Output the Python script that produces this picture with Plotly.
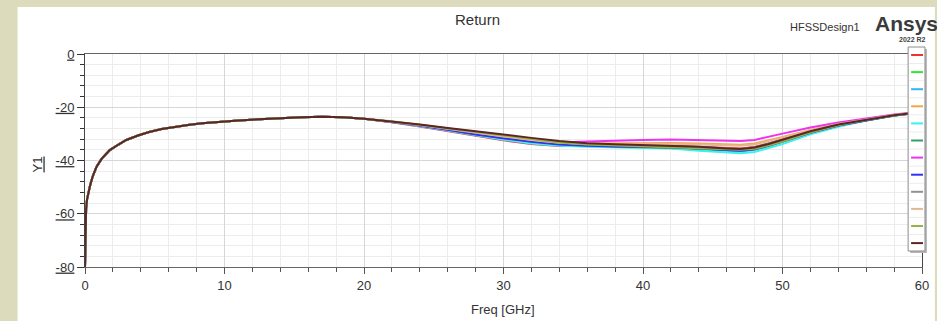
import plotly.graph_objects as go

# ---------------- data ----------------
freq_low = [0, 0.03, 0.08, 0.15, 0.25, 0.36, 0.55, 0.83, 1.2, 1.78, 2.4, 2.96, 3.8, 4.6,
            5.5, 6.5, 7.5, 8.4, 10, 11, 12.5, 14, 15.5, 17, 18.5, 20]
base_low = [-80, -65, -58, -54.5, -52, -49.5, -46, -42.3, -39.3, -36.1, -34, -32.3, -30.6, -29.3,
            -28.2, -27.3, -26.6, -26.0, -25.3, -25.0, -24.5, -24.1, -23.8, -23.6, -23.8, -24.3]
freq_high = [22, 24, 26, 28, 30, 32, 34, 36, 38, 40, 42, 44, 46, 47, 48, 49, 50, 52, 54, 56, 58, 60]

tail_red = [-25.6, -27.2, -28.9, -30.8, -32.4, -33.8, -34.6, -34.4, -34.2, -34.3, -34.4, -34.8, -35.4, -35.5, -34.9, -33.6, -32.0, -28.8, -26.3, -24.5, -22.9, -21.8]
tail_lime = [-25.4, -26.8, -28.3, -29.9, -31.3, -32.8, -33.9, -34.6, -34.9, -35.1, -35.3, -35.8, -36.4, -36.6, -36.0, -34.6, -33.0, -29.6, -26.9, -24.9, -23.1, -21.9]
tail_skyblue = [-25.5, -27.0, -28.6, -30.3, -31.8, -33.3, -34.2, -34.6, -34.7, -34.8, -35.0, -35.5, -36.2, -36.4, -35.9, -34.5, -32.8, -29.4, -26.8, -24.8, -23.0, -21.9]
tail_orange = [-25.4, -26.7, -28.1, -29.6, -31.0, -32.3, -33.3, -33.6, -33.5, -33.4, -33.4, -33.6, -34.0, -34.1, -33.6, -32.5, -31.2, -28.5, -26.2, -24.5, -22.9, -21.8]
tail_cyan = [-25.5, -27.0, -28.7, -30.6, -32.2, -33.6, -34.5, -34.8, -35.0, -35.2, -35.5, -36.3, -37.1, -37.3, -36.8, -35.4, -33.8, -30.2, -27.3, -25.0, -23.2, -22.0]
tail_seagreen = [-25.4, -26.8, -28.3, -29.8, -31.2, -32.7, -33.8, -34.4, -34.7, -34.9, -35.1, -35.5, -36.0, -36.1, -35.6, -34.3, -32.8, -29.5, -26.9, -24.9, -23.1, -21.9]
tail_magenta = [-25.4, -26.9, -28.5, -30.1, -31.6, -32.8, -33.2, -32.9, -32.5, -32.3, -32.1, -32.3, -32.6, -32.7, -32.3, -31.2, -29.9, -27.6, -25.7, -24.2, -22.7, -21.6]
tail_blue = [-25.5, -26.9, -28.5, -30.2, -31.6, -33.0, -34.0, -34.5, -34.7, -34.8, -35.0, -35.5, -36.2, -36.3, -35.8, -34.5, -32.9, -29.6, -26.9, -24.9, -23.1, -21.9]
tail_gray = [-25.4, -26.7, -28.1, -29.6, -30.9, -32.2, -33.3, -33.9, -34.1, -34.3, -34.5, -34.9, -35.5, -35.6, -35.0, -33.7, -32.2, -29.1, -26.6, -24.7, -23.0, -21.8]
tail_tan = [-25.4, -26.7, -28.1, -29.6, -31.0, -32.3, -33.3, -33.7, -33.7, -33.7, -33.8, -34.0, -34.4, -34.5, -34.0, -32.8, -31.4, -28.6, -26.3, -24.6, -22.9, -21.8]
tail_olive = [-25.3, -26.6, -27.9, -29.3, -30.6, -32.0, -33.2, -34.0, -34.4, -34.7, -35.0, -35.4, -35.9, -36.0, -35.6, -34.4, -32.9, -29.5, -26.8, -24.8, -23.1, -21.9]
tail_brown = [-25.3, -26.5, -27.8, -29.1, -30.3, -31.5, -32.7, -33.5, -33.9, -34.2, -34.4, -34.8, -35.5, -35.7, -35.1, -33.8, -32.2, -29.0, -26.5, -24.7, -23.0, -21.8]

tails = [tail_red, tail_lime, tail_skyblue, tail_orange, tail_cyan, tail_seagreen,
         tail_magenta, tail_blue, tail_gray, tail_tan, tail_olive, tail_brown]
colors = ["#f23232", "#32e632", "#32b4f5", "#f5a546", "#3cf0f0", "#32a064",
          "#f032f0", "#3232f0", "#909090", "#e1b891", "#96b446", "#5a2626"]

x_ticks = [0, 10, 20, 30, 40, 50, 60]
y_ticks = [0, -20, -40, -60, -80]
y_ticktext = ["<u>%d</u>" % v for v in y_ticks]

# ---------------- layout geometry (pixels) ----------------
W, H = 937, 321
L, R, T, B = 85, 8, 54, 54
PW, PH = W - L - R, H - T - B
BEIGE = "#dcdcbc"


def px(x):
    return (x - L) / PW


def py(y):
    return (H - B - y) / PH


fig = go.Figure()
freq = freq_low + freq_high
for tail, c in zip(tails, colors):
    fig.add_trace(go.Scatter(x=freq, y=base_low + tail, mode="lines",
                             line=dict(color=c, width=2), showlegend=False,
                             hoverinfo="skip"))

font_main = "Liberation Sans, Arial, sans-serif"
shapes = []
# white panel on beige
shapes.append(dict(type="rect", xref="paper", yref="paper", x0=px(17), x1=px(W + 5),
                   y0=py(H + 5), y1=py(7), fillcolor="white", line=dict(width=0),
                   layer="below"))
# legend box (shadow + box + samples)
shapes.append(dict(type="rect", xref="paper", yref="paper", x0=px(917), x1=px(934),
                   y0=py(253), y1=py(49), fillcolor="#b8b8b8", line=dict(width=0)))
shapes.append(dict(type="rect", xref="paper", yref="paper", x0=px(915), x1=px(932),
                   y0=py(251), y1=py(47), fillcolor="white",
                   line=dict(color="#8c8c8c", width=1)))
for i, c in enumerate(colors):
    yy = 55 + 17.1 * i
    if i > 0:
        ys = yy - 8.55
        shapes.append(dict(type="line", xref="paper", yref="paper", x0=px(916), x1=px(931),
                           y0=py(ys), y1=py(ys), line=dict(color="#ececec", width=1)))
    shapes.append(dict(type="line", xref="paper", yref="paper", x0=px(918), x1=px(930),
                       y0=py(yy), y1=py(yy), line=dict(color=c, width=2)))


def label(text, x, y, size, color="#333333", xanchor="center", angle=0):
    return dict(text=text, x=px(x), y=py(y), xref="paper", yref="paper",
                xanchor=xanchor, yanchor="middle", textangle=angle, showarrow=False,
                borderpad=0, font=dict(family=font_main, size=size, color=color))


annotations = [
    label("Return", 481, 20, 15),
    label("HFSSDesign1", 867, 27, 11, xanchor="right"),
    label("<b>Ansys</b>", 881, 24, 21, color="#3a3a3a", xanchor="left"),
    label("<b>2022 R2</b>", 905, 39, 7, color="#444444", xanchor="left"),
    label("Freq [GHz]", 506, 309, 13),
    label("<u>Y1</u>", 37, 164, 13, angle=-90),
]

fig.update_layout(
    width=W, height=H,
    margin=dict(l=L, r=R, t=T, b=B, pad=0),
    paper_bgcolor=BEIGE,
    plot_bgcolor="white",
    shapes=shapes,
    annotations=annotations,
    showlegend=False,
    font=dict(family=font_main, size=13, color="#333333"),
)
fig.update_xaxes(
    range=[0, 60], tickvals=x_ticks, ticks="outside", ticklen=6, tickcolor="#555555",
    showline=True, linecolor="#666666", linewidth=1, mirror=True,
    showgrid=True, gridcolor="#d6d6d6", gridwidth=1, zeroline=False,
    minor=dict(dtick=2, showgrid=True, gridcolor="#ececec", ticks="outside", ticklen=4,
               tickcolor="#555555"),
    tickfont=dict(family=font_main, size=13, color="#333333"),
)
fig.update_yaxes(
    range=[-80, 0], tickvals=y_ticks, ticktext=y_ticktext, ticks="outside", ticklen=7,
    tickcolor="#333333", showline=True, linecolor="#444444", linewidth=1, mirror=True,
    showgrid=True, gridcolor="#d6d6d6", gridwidth=1, zeroline=False,
    minor=dict(dtick=4, showgrid=True, gridcolor="#ececec", ticks="outside", ticklen=4,
               tickcolor="#333333"),
    tickfont=dict(family=font_main, size=13, color="#333333"),
)

fig.write_html(
    "out.html",
    config={"displayModeBar": False},
    post_script="document.body.style.margin='0';document.body.style.overflow='hidden';"
                "document.body.style.background='%s';" % BEIGE,
)
